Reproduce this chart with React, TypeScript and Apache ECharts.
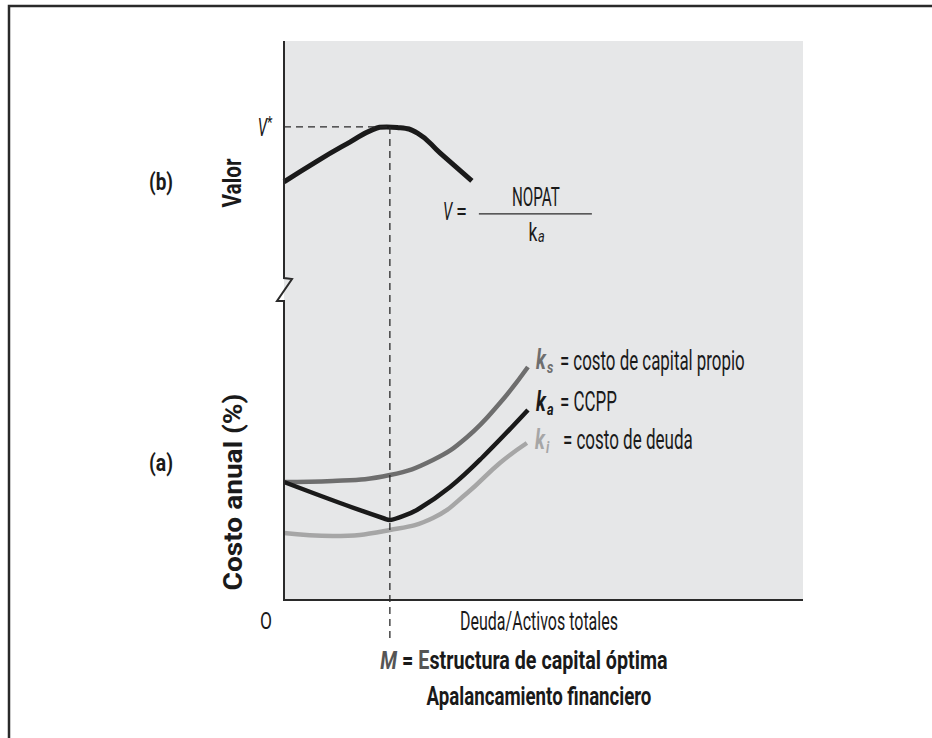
import React, { useEffect, useRef } from "react";
import * as echarts from "echarts";

// ---- data (x: Deuda/Activos totales, arbitrary 0-100 scale) ----
const X_MAX = 100;
const M_OPT = 20.4; // estructura de capital óptima
const V_STAR = 65.5; // valor máximo
const VALOR_MAX = 100;
const COSTO_MAX = 31;

const valorX = [0, 6.4, 12.7, 17.1, 19.8, 21.8, 25.8, 30.1, 36.2];
const valorY = [43.4, 51.8, 59.4, 64.4, 65.5, 65.3, 62.9, 55.0, 43.8];

const ksX = [0, 9.4, 20.4, 28.7, 35.3, 41.6, 47.0];
const ksY = [11.8, 11.9, 12.5, 14.0, 16.3, 19.7, 23.3];

const kaX = [0, 10.8, 19.3, 20.4, 21.6, 25.6, 32.0, 38.3, 47.0];
const kaY = [11.8, 9.7, 8.15, 8.0, 8.15, 9.0, 11.3, 14.3, 19.0];

const kiX = [0, 9.4, 20.4, 28.7, 35.3, 41.6, 46.8];
const kiY = [6.7, 6.4, 7.0, 8.2, 10.7, 13.7, 15.7];

const LABEL_KS = "= costo de capital propio";
const LABEL_KA = "= CCPP";
const LABEL_KI = "= costo de deuda";
const X_NAME = "Deuda/Activos totales";
const Y_TOP = "Valor";
const Y_BOTTOM = "Costo anual (%)";
const M_TEXT = "Estructura de capital óptima";
const FOOTER = "Apalancamiento financiero";

const FONT = "Roboto, 'Noto Sans', sans-serif";
const C_KS = "#6e6e6e";
const C_KA = "#1a1a1a";
const C_KI = "#a6a6a6";
const PANEL = "#e6e7e8";
const INK = "#2a2a2a";

const zip = (xs: number[], ys: number[]) => xs.map((x, i) => [x, ys[i]]);

let measureCtx: CanvasRenderingContext2D | null = null;
function measure(text: string, font: string) {
  if (!measureCtx) measureCtx = document.createElement("canvas").getContext("2d");
  if (!measureCtx) return text.length * 10;
  measureCtx.font = font;
  return measureCtx.measureText(text).width;
}

export default function App() {
  const ref = useRef<HTMLDivElement>(null);
  useEffect(() => {
    if (!ref.current) return;
    const chart = echarts.init(ref.current, undefined, { renderer: "svg" });
    const hiddenAxis = { axisLine: { show: false }, axisTick: { show: false }, axisLabel: { show: false }, splitLine: { show: false } };
    const lineS = (xi: number, data: number[][], color: string, width: number, z: number, smooth: number) => ({
      type: "line",
      xAxisIndex: xi,
      yAxisIndex: xi,
      data,
      smooth,
      showSymbol: false,
      lineStyle: { color, width },
      z,
    });
    chart.setOption({
      animation: false,
      grid: [
        { left: 284, top: 41, width: 519, height: 249, show: true, backgroundColor: PANEL, borderWidth: 0 },
        { left: 284, top: 290, width: 519, height: 310, show: true, backgroundColor: PANEL, borderWidth: 0 },
      ],
      xAxis: [
        { type: "value", gridIndex: 0, min: 0, max: X_MAX, ...hiddenAxis },
        { type: "value", gridIndex: 1, min: 0, max: X_MAX, ...hiddenAxis },
      ],
      yAxis: [
        { type: "value", gridIndex: 0, min: 0, max: VALOR_MAX, ...hiddenAxis },
        { type: "value", gridIndex: 1, min: 0, max: COSTO_MAX, ...hiddenAxis },
      ],
      series: [
        lineS(0, zip(valorX, valorY), C_KA, 5, 5, 0.5),
        lineS(1, zip(ksX, ksY), C_KS, 4.5, 4, 0.45),
        lineS(1, zip(kiX, kiY), C_KI, 4.5, 4, 0.45),
        lineS(1, zip(kaX, kaY), C_KA, 4.5, 5, 0.4),
      ],
    });

    const p0 = (v: number[]) => chart.convertToPixel({ gridIndex: 0 }, v) as number[];
    const p1 = (v: number[]) => chart.convertToPixel({ gridIndex: 1 }, v) as number[];
    const topLeft = p0([0, VALOR_MAX]);
    const origin = p1([0, 0]);
    const rightEnd = p1([X_MAX, 0]);
    const vStar = p0([M_OPT, V_STAR]);
    const valEnd = p0([valorX[valorX.length - 1], valorY[valorY.length - 1]]);
    const ksEnd = p1([ksX[ksX.length - 1], ksY[ksY.length - 1]]);
    const kaEnd = p1([kaX[kaX.length - 1], kaY[kaY.length - 1]]);
    const kiEnd = p1([kiX[kiX.length - 1], kiY[kiY.length - 1]]);
    const xL = origin[0];
    const breakY = 290;

    const txt = (x: number, y: number, text: string, o: any = {}) => {
      const font = `${o.style || "normal"} ${o.weight || "normal"} ${o.size || 19}px ${FONT}`;
      const sx = o.width ? o.width / measure(text, font) : o.sx || 1;
      return {
        type: "text",
        x,
        y,
        rotation: o.rotation || 0,
        scaleX: sx,
        z: 100,
        style: {
          text,
          fill: o.fill || C_KA,
          font,
          textAlign: o.align || "left",
          textVerticalAlign: "middle",
        },
      };
    };

    const legend = (end: number[], color: string, sub: string, label: string, dy: number, gap: number, w: number) => [
      txt(end[0] + 8, end[1] + dy, "k", { fill: color, weight: "bold", style: "italic", size: 28, sx: 0.68 }),
      txt(end[0] + 19, end[1] + dy + 7, sub, { fill: color, weight: "bold", style: "italic", size: 17, sx: 0.75 }),
      txt(end[0] + gap, end[1] + dy, label, { size: 27, width: w }),
    ];

    const dash = { stroke: INK, lineWidth: 1.3, lineDash: [7, 5] };
    const mFont = `bold 25px ${FONT}`;
    const mScale = 288 / measure("M = " + M_TEXT, mFont);

    chart.setOption({
      graphic: [
        { type: "rect", shape: { x: 9, y: 6, width: 1000, height: 1000 }, style: { fill: "none", stroke: INK, lineWidth: 2.5 }, z: 100 },
        {
          type: "polyline",
          z: 50,
          shape: {
            points: [
              [xL, topLeft[1]],
              [xL, breakY - 12],
              [xL + 8, breakY - 11],
              [xL - 7, breakY + 11],
              [xL, breakY + 11],
              [xL, origin[1]],
              [rightEnd[0], origin[1]],
            ],
          },
          style: { stroke: INK, lineWidth: 2, fill: "none" },
        },
        { type: "line", z: 40, shape: { x1: xL, y1: vStar[1], x2: vStar[0], y2: vStar[1] }, style: dash },
        { type: "line", z: 40, shape: { x1: vStar[0], y1: vStar[1], x2: vStar[0], y2: origin[1] + 38 }, style: dash },
        txt(267, vStar[1] + 1, "V", { style: "italic", size: 25, align: "right", sx: 0.6 }),
        txt(267, vStar[1] - 4, "*", { size: 16, sx: 0.8 }),
        // formula V = NOPAT / k_a
        txt(valEnd[0] - 29, valEnd[1] + 31, "V", { style: "italic", size: 25, sx: 0.6 }),
        txt(valEnd[0] - 16, valEnd[1] + 31, "=", { size: 25, sx: 0.8 }),
        txt(valEnd[0] + 64, valEnd[1] + 17, "NOPAT", { size: 25, align: "center", width: 48 }),
        { type: "line", z: 40, shape: { x1: valEnd[0] + 7, y1: valEnd[1] + 33, x2: valEnd[0] + 120, y2: valEnd[1] + 33 }, style: { stroke: INK, lineWidth: 1.2 } },
        txt(valEnd[0] + 61, valEnd[1] + 51, "k", { size: 25, align: "center", sx: 0.7 }),
        txt(valEnd[0] + 66, valEnd[1] + 56, "a", { size: 16, style: "italic", sx: 0.8 }),
        // legend labels at curve ends
        ...legend(ksEnd, C_KS, "s", LABEL_KS, -7, 32, 185),
        ...legend(kaEnd, C_KA, "a", LABEL_KA, -8, 32, 57),
        ...legend(kiEnd, C_KI, "i", LABEL_KI, -3, 36, 130),
        // axis titles
        txt(161, 182, "(b)", { weight: "bold", size: 23, align: "center", width: 24 }),
        txt(161, 463, "(a)", { weight: "bold", size: 23, align: "center", width: 24 }),
        txt(233, 183, Y_TOP, { weight: "bold", size: 25, align: "center", rotation: Math.PI / 2, width: 49 }),
        txt(233, 492, Y_BOTTOM, { weight: "bold", size: 25, align: "center", rotation: Math.PI / 2, width: 197 }),
        txt(xL - 18, origin[1] + 21, "O", { size: 23, align: "center", width: 12 }),
        txt(539, origin[1] + 22, X_NAME, { size: 25, align: "center", width: 158 }),
        {
          type: "text",
          x: 524,
          y: origin[1] + 60,
          scaleX: mScale,
          z: 100,
          style: {
            text: `{m|M} {b|=} {e|E}{b|${M_TEXT.slice(1)}}`,
            textAlign: "center",
            textVerticalAlign: "middle",
            font: mFont,
            rich: {
              m: { fill: "#555555", font: `italic bold 25px ${FONT}` },
              e: { fill: "#555555", font: mFont },
              b: { fill: C_KA, font: mFont },
            },
          },
        },
        txt(539, origin[1] + 97, FOOTER, { weight: "bold", size: 25, align: "center", width: 225 }),
      ],
    });
    return () => chart.dispose();
  }, []);
  return <div ref={ref} style={{ position: "absolute", left: 0, top: 0, width: 932, height: 738, background: "#fff" }} />;
}
